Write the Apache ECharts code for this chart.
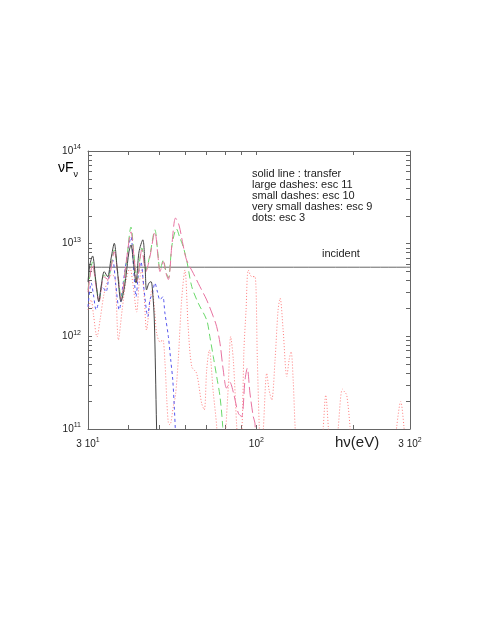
<!DOCTYPE html>
<html>
<head>
<meta charset="utf-8">
<title>nuFnu escape spectra</title>
<script src="https://cdn.jsdelivr.net/npm/echarts@6/dist/echarts.min.js"></script>
<style>
  html, body { margin: 0; padding: 0; background: #fff; }
  #chart { width: 491px; height: 635px; }
</style>
</head>
<body>
<div id="chart"></div>
<script>
// photon energy h nu (eV) and nu F_nu
const transferE = [30.0, 30.4, 31.0, 31.7, 32.4, 33.0, 33.7, 34.5, 35.4, 36.2, 37.0, 38.0, 38.8, 39.4, 40.2, 40.8, 41.5, 42.3, 43.2, 44.4, 45.1, 45.6, 46.4, 47.1, 47.7, 48.2, 48.6, 49.0, 49.3]
const transferF = [3.86e12, 5.89e12, 7.37e12, 4.06e12, 2.37e12, 3.58e12, 4.99e12, 4.41e12, 7.01e12, 1.01e13, 5.20e12, 2.37e12, 3.17e12, 4.60e12, 8.14e12, 9.68e12, 6.35e12, 3.77e12, 8.14e12, 1.10e13, 5.89e12, 3.17e12, 3.77e12, 3.89e12, 2.80e12, 1.50e12, 4.34e11, 1.0e11, 5e10]

const esc11E = [30.0, 31.0, 31.8, 32.5, 33.6, 34.6, 36.2, 37.2, 38.0, 39.4, 40.8, 41.7, 42.6, 44.1, 45.4, 46.7, 48.4, 49.5, 50.2, 51.4, 52.4, 53.3, 54.7, 56.1, 57.5, 59.2, 60.7, 63.7, 66.8, 70.1, 73.5, 75.3, 77.1, 78.9, 80.8, 82.7, 84.9, 87.9, 90.0, 92.2, 93.7, 95.5, 97.8, 99.0, 99.7]
const esc11F = [3.0e12, 6.0e12, 3.4e12, 2.4e12, 4.4e12, 4.1e12, 8.2e12, 4.4e12, 2.5e12, 6.2e12, 1.34e13, 7.2e12, 3.9e12, 8.6e12, 5.0e12, 7.2e12, 1.34e13, 7.2e12, 5.0e12, 6.4e12, 4.8e12, 4.1e12, 1.0e13, 1.89e13, 1.59e13, 9.68e12, 6.67e12, 4.79e12, 3.44e12, 2.47e12, 1.63e12, 1.27e12, 8.43e11, 4.34e11, 2.76e11, 3.2e11, 2.45e11, 1.48e11, 1.36e11, 3.39e11, 4.53e11, 2.45e11, 1.36e11, 1.16e11, 5e10]

const esc10E = [30.0, 31.0, 31.8, 32.5, 33.6, 34.6, 36.2, 37.2, 38.0, 39.4, 40.8, 41.7, 42.6, 44.1, 45.4, 46.7, 48.4, 49.5, 50.2, 51.4, 52.4, 53.3, 54.7, 56.5, 57.9, 59.3, 60.9, 63.0, 66.0, 70.1, 71.7, 73.5, 75.3, 77.1, 78.6, 79.0]
const esc10F = [3.17e12, 6.35e12, 3.58e12, 2.47e12, 4.60e12, 4.27e12, 8.55e12, 4.60e12, 2.60e12, 5.89e12, 1.51e13, 7.55e12, 4.06e12, 8.99e12, 5.20e12, 7.55e12, 1.41e13, 7.55e12, 5.20e12, 6.67e12, 4.95e12, 4.27e12, 9.68e12, 1.44e13, 1.15e13, 9.21e12, 6.35e12, 3.44e12, 2.28e12, 1.50e12, 9.93e11, 6.04e11, 3.68e11, 2.24e11, 1.06e11, 5e10]

const esc9E = [30.0, 30.7, 31.2, 31.8, 32.5, 33.3, 34.1, 34.9, 35.8, 36.6, 37.5, 38.5, 39.8, 40.8, 41.5, 42.3, 43.0, 43.8, 44.8, 46.0, 46.7, 47.6, 48.4, 49.3, 50.2, 51.2, 52.0, 53.3, 54.2, 55.0, 55.6, 56.0, 56.3]
const esc9F = [2.08e12, 3.77e12, 2.80e12, 1.93e12, 2.47e12, 3.44e12, 3.01e12, 4.60e12, 6.67e12, 3.58e12, 1.93e12, 3.58e12, 7.94e12, 1.18e13, 5.89e12, 2.68e12, 4.60e12, 6.35e12, 3.17e12, 1.63e12, 2.47e12, 2.94e12, 3.77e12, 3.01e12, 2.47e12, 2.68e12, 1.78e12, 9.93e11, 5.57e11, 3.39e11, 1.74e11, 1.0e11, 5e10]

const esc3E = [30.0, 30.7, 31.2, 32.0, 32.7, 33.6, 34.6, 35.6, 36.4, 37.3,
  38.3, 39.4, 40.5, 41.4, 42.5, 43.2, 44.0, 44.8, 45.6, 46.6,
  47.4, 48.3, 49.0, 50.2, 51.2, 52.0, 52.7, 53.3, 53.9, 55.2,
  56.1, 57.2, 58.6, 60.0, 61.4, 63.0, 65.2, 67.6, 68.9, 70.1,
  71.4, 73.5, 75.3, 76.0, 79.9, 80.4, 81.8, 83.2, 84.8, 86.9,
  88.3, 90.2, 91.5, 92.9, 94.4, 96.7, 99.0, 100.7, 102.1, 103.4,
  105.1, 107.7, 109.5, 111.6, 114.3, 116.8, 118.5, 121.1, 124.3, 126.4,
  128.2, 130.1, 131.9, 133.8, 158.8, 161.4, 164.2, 167.3, 169.3, 176.8,
  179.7, 184.9, 187.9, 190.8, 195.4, 198.2, 267.6, 272.8, 280.7, 287.4,
  291.6]
const esc3F = [1.93e12, 2.47e12, 1.70e12, 9.85e11, 1.50e12, 2.80e12, 4.06e12, 4.60e12, 4.27e12, 9.15e11,
  1.93e12, 4.06e12, 5.47e12, 3.58e12, 1.83e12, 3.58e12, 5.20e12, 2.80e12, 1.17e12, 2.18e12,
  3.17e12, 1.93e12, 1.09e12, 8.70e11, 9.15e11, 5.30e11, 2.06e11, 1.16e11, 1.11e11, 1.74e11,
  2.33e11, 5.57e11, 2.47e12, 5.20e12, 1.27e12, 4.71e11, 4.00e11, 1.90e11, 1.61e11, 4.34e11,
  7.14e11, 2.45e11, 1.06e11, 5e10, 5e10, 1.0e11, 2.87e11, 9.93e11, 5.57e11, 1.06e11,
  5e10, 1.0e11, 7.14e11, 1.93e12, 5.20e12, 4.41e12, 4.41e12, 5.57e11, 1.06e11, 5e10,
  1.0e11, 4.00e11, 2.64e11, 2.06e11, 5.57e11, 1.93e12, 2.58e12, 1.17e12, 3.68e11, 5.57e11,
  6.84e11, 3.39e11, 1.06e11, 5e10, 5e10, 1.06e11, 2.33e11, 1.04e11, 5e10, 5e10,
  1.06e11, 2.69e11, 2.51e11, 2.33e11, 1.06e11, 5e10, 5e10, 1.06e11, 1.98e11, 1.04e11,
  5e10]

const incidentE = [30, 300]
const incidentF = [5.57e12, 5.57e12]

// axis ticks and labels
const xTickValues = [30, 40, 50, 60, 70, 80, 90, 100, 200, 300]
const xLabelValues = [30, 100, 300]
const xLabelMants = ['3 10', '10', '3 10']
const xLabelExps = ['1', '2', '2']
const yLabelValues = [1e11, 1e12, 1e13, 1e14]
const yLabelExps = ['11', '12', '13', '14']
const yTickValues = []
for (let d = 11; d < 14; d++) {
  for (let m = 1; m < 10; m++) yTickValues.push(m * Math.pow(10, d))
}
yTickValues.push(1e14)

const legendLines = [
  'solid line : transfer',
  'large dashes: esc 11',
  'small dashes: esc 10',
  'very small dashes: esc 9',
  'dots: esc 3',
]

const font = "'Liberation Sans', Arial, Helvetica, sans-serif"
const frameColor = '#666'

const nearest = (vals, v) => {
  let best = 0
  vals.forEach((x, i) => {
    if (Math.abs(Math.log(x / v)) < Math.abs(Math.log(vals[best] / v))) best = i
  })
  return best
}

const pairs = (xs, ys) => xs.map((x, i) => [x, ys[i]])

const curve = (name, xs, ys, color, type) => ({
  name,
  type: 'line',
  data: pairs(xs, ys),
  symbol: 'none',
  showSymbol: false,
  smooth: 0.3,
  clip: true,
  silent: true,
  lineStyle: { color, width: 1, type },
})

const supRich = {
  b: { fontSize: 10, fontFamily: font, color: '#222', lineHeight: 14 },
  s: { fontSize: 7, fontFamily: font, color: '#222', verticalAlign: 'top' },
}

const frameAxis = (position, ticks, min, max) => ({
  type: 'log',
  logBase: 10,
  position,
  min,
  max,
  axisLine: { show: true, onZero: false, lineStyle: { color: frameColor, width: 1 } },
  axisTick: { show: true, inside: true, length: 4, customValues: ticks, lineStyle: { color: frameColor } },
  minorTick: { show: false },
  splitLine: { show: false },
  axisLabel: { show: false },
})

const xBottom = frameAxis('bottom', xTickValues, 30, 300)
xBottom.axisLabel = {
  show: true,
  customValues: xLabelValues,
  margin: 8,
  rich: supRich,
  formatter(v) {
    const i = nearest(xLabelValues, v)
    return '{b|' + xLabelMants[i] + '}{s|' + xLabelExps[i] + '}'
  },
}

const yLeft = frameAxis('left', yTickValues, 1e11, 1e14)
yLeft.axisLabel = {
  show: true,
  customValues: yLabelValues,
  margin: 7,
  rich: supRich,
  formatter(v) {
    const i = nearest(yLabelValues, v)
    return '{b|10}{s|' + yLabelExps[i] + '}'
  },
}

const chart = echarts.init(document.getElementById('chart'))

chart.setOption({
  backgroundColor: '#fff',
  animation: false,
  grid: { left: 88, top: 151, width: 322, height: 278, containLabel: false, outerBoundsMode: 'none' },
  xAxis: [xBottom, frameAxis('top', xTickValues, 30, 300)],
  yAxis: [yLeft, frameAxis('right', yTickValues, 1e11, 1e14)],
  series: [
    curve('incident', incidentE, incidentF, '#666', 'solid'),
    curve('esc 3', esc3E, esc3F, '#ff7c7c', [1, 2]),
    curve('esc 9', esc9E, esc9F, '#5656ee', [3, 3]),
    curve('esc 10', esc10E, esc10F, '#6ad86a', [7, 4]),
    curve('esc 11', esc11E, esc11F, '#e772a0', [11, 4]),
    curve('transfer', transferE, transferF, '#444', 'solid'),
  ],
  graphic: [
    {
      type: 'text',
      left: 58,
      top: 161,
      style: {
        text: '{a|νF}{c|ν}',
        rich: {
          a: { fontSize: 14, fontFamily: font, color: '#222', lineHeight: 22 },
          c: { fontSize: 9, fontFamily: font, color: '#222', verticalAlign: 'bottom' },
        },
      },
    },
    {
      type: 'text',
      left: 252,
      top: 168,
      style: { text: legendLines.join('\n'), fontSize: 11, lineHeight: 11, fontFamily: font, fill: '#222' },
    },
    {
      type: 'text',
      left: 322,
      top: 248,
      style: { text: 'incident', fontSize: 11, fontFamily: font, fill: '#222' },
    },
    {
      type: 'text',
      left: 335,
      top: 435,
      style: { text: 'hν(eV)', fontSize: 15, fontFamily: font, fill: '#222' },
    },
  ],
})
</script>
</body>
</html>
